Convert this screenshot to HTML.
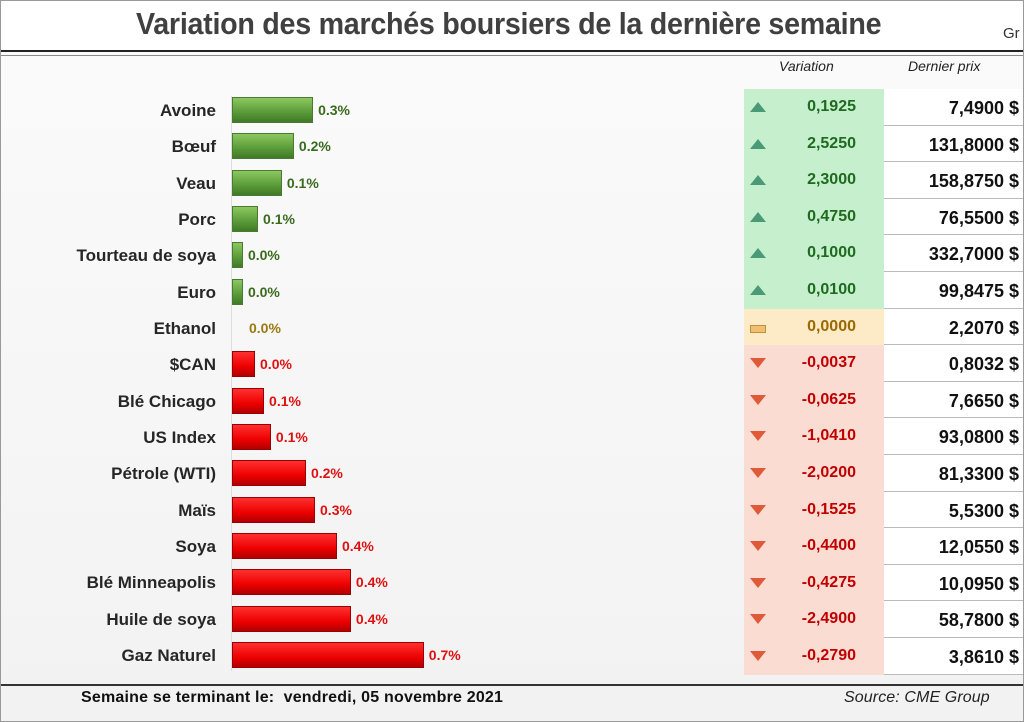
<!DOCTYPE html>
<html><head><meta charset="utf-8"><style>
body{margin:0;width:1024px;height:722px;overflow:hidden;background:#fff;font-family:"Liberation Sans",sans-serif;}
#wrap{position:absolute;left:0;top:0;width:1022px;height:720px;border:1px solid #999;background:linear-gradient(#fbfbfb,#f2f2f2);}
#title{position:absolute;left:0;top:0;width:1022px;height:50px;background:#fff;}
#title h1{margin:0;position:absolute;left:135px;top:5px;font-size:31px;font-weight:bold;color:#404040;letter-spacing:-0.3px;white-space:nowrap;transform:scaleX(0.925);transform-origin:left;}
.lbl{position:absolute;font-weight:bold;font-size:17px;color:#262626;text-align:right;width:215px;left:0;white-space:nowrap;}
.pct{position:absolute;font-weight:bold;font-size:14px;}
.bar{position:absolute;height:26px;box-sizing:border-box;}
.cell{position:absolute;font-weight:bold;text-align:right;box-sizing:border-box;border-bottom:1px solid #bbb;white-space:nowrap;}
</style></head><body>
<div id="wrap">
<div id="title"><h1>Variation des marchés boursiers de la dernière semaine</h1>
<div style="position:absolute;left:1002px;top:24px;font-size:15px;color:#333">Gr</div></div>
<div style="position:absolute;left:0;top:49px;width:1022px;height:3px;border-top:2px solid #222;border-bottom:1px solid #888;"></div>
<div style="position:absolute;left:778px;top:57px;font-size:14px;font-style:italic;color:#222">Variation</div>
<div style="position:absolute;left:907px;top:57px;font-size:14px;font-style:italic;color:#222">Dernier prix</div>
<div style="position:absolute;left:230px;top:95px;width:1px;height:575px;background:#ddd"></div>
<div id="rows"></div>
<div style="position:absolute;left:0;top:683px;width:1022px;height:2px;background:#333"></div>
<div style="position:absolute;left:80px;top:688px;font-size:16px;font-weight:bold;color:#111;white-space:nowrap;letter-spacing:0.2px">Semaine se terminant le:&nbsp; vendredi, 05 novembre 2021</div>
<div style="position:absolute;left:843px;top:688px;font-size:16px;font-style:italic;color:#222;white-space:nowrap;letter-spacing:0.1px">Source: CME Group</div>
</div>
<script>
const categories=["Avoine","Bœuf","Veau","Porc","Tourteau de soya","Euro","Ethanol","$CAN","Blé Chicago","US Index","Pétrole (WTI)","Maïs","Soya","Blé Minneapolis","Huile de soya","Gaz Naturel"];
const pctValues=[0.296,0.226,0.182,0.095,0.04,0.04,0,0.084,0.117,0.142,0.27,0.303,0.383,0.434,0.434,0.70];
const pctLabels=["0.3%","0.2%","0.1%","0.1%","0.0%","0.0%","0.0%","0.0%","0.1%","0.1%","0.2%","0.3%","0.4%","0.4%","0.4%","0.7%"];
const direction=[1,1,1,1,1,1,0,-1,-1,-1,-1,-1,-1,-1,-1,-1];
const variations=["0,1925","2,5250","2,3000","0,4750","0,1000","0,0100","0,0000","-0,0037","-0,0625","-1,0410","-2,0200","-0,1525","-0,4400","-0,4275","-2,4900","-0,2790"];
const prices=["7,4900 $","131,8000 $","158,8750 $","76,5500 $","332,7000 $","99,8475 $","2,2070 $","0,8032 $","7,6650 $","93,0800 $","81,3300 $","5,5300 $","12,0550 $","10,0950 $","58,7800 $","3,8610 $"];
const x=v=>231+v*274, rowY=i=>109+i*36.33, tY=i=>88+i*36.6;
const root=document.getElementById('rows');
function mk(cls,css,txt){const d=document.createElement('div');if(cls)d.className=cls;d.style.cssText=css;if(txt!=null)d.textContent=txt;root.appendChild(d);return d;}
categories.forEach((c,i)=>{
 const y=rowY(i),d=direction[i];
 const l=mk('lbl',`top:${y-9}px;`,c);
 
 
 const w=x(pctValues[i])-231;
 if(w>0){const b=mk('bar',`left:231px;top:${y-13}px;width:${w}px;`+(d>0?'background:linear-gradient(#8cc860,#5a9a38 60%,#3f7a28);border:1px solid #4a7a30;':'background:linear-gradient(#ff3030,#ee0000 60%,#b00000);border:1px solid #900;'));
  
  }
 const col=d>0?'#3a6a1e':d<0?'#e01010':'#9a7a10';
 const p=mk('pct',`left:${(w>0?231+w+5:248)}px;top:${y-8}px;color:${col};`,pctLabels[i]);
 
 
 const ty=tY(i),bg=d>0?'#c6efce':d<0?'#fadcd2':'#fdebc8';
 const v=mk('cell',`left:743px;top:${ty}px;width:140px;height:36.6px;background:${bg};color:${d>0?'#1e6a1e':d<0?'#c00000':'#9a6a00'};font-size:16px;padding:9px 28px 0 0;border-bottom-color:${bg};`,variations[i]);
 
 
 const ic=mk('',`position:absolute;left:749px;top:${ty+13}px;`+(d>0?'width:0;height:0;border-left:8px solid transparent;border-right:8px solid transparent;border-bottom:10px solid #4a9a78;':d<0?'width:0;height:0;border-left:8px solid transparent;border-right:8px solid transparent;border-top:10px solid #e05a3a;':'width:14px;height:6px;background:#f0c070;border:1px solid #c09040;top:'+(ty+16)+'px;'));
 
 
 const pr=mk('cell',`left:883px;top:${ty}px;width:139px;height:36.6px;background:#fff;color:#111;font-size:18px;padding:9px 4px 0 0;`,prices[i]);
 
 
});
</script>
</body></html>
